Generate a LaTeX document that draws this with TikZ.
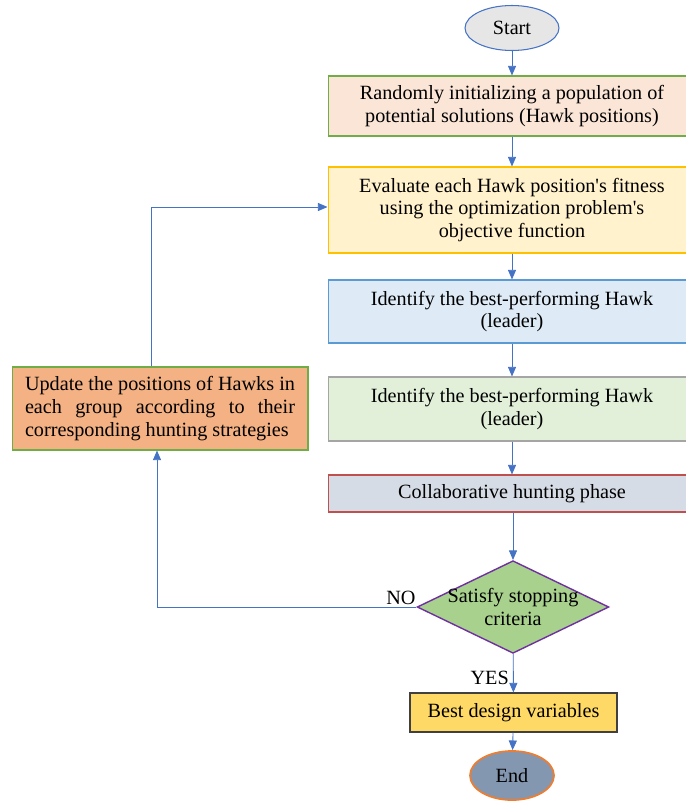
\documentclass[tikz,border=0pt]{standalone}
\usepackage{fontspec}
\setmainfont{Liberation Serif}
\usetikzlibrary{shapes,arrows,arrows.meta}
\usetikzlibrary{positioning}

\definecolor{arrowblue}{RGB}{68,114,196}
\definecolor{startfill}{RGB}{231,230,230}
\definecolor{initfill}{RGB}{251,229,214}
\definecolor{greenline}{RGB}{112,173,71}
\definecolor{evalfill}{RGB}{255,242,204}
\definecolor{evalline}{RGB}{255,192,0}
\definecolor{leadfill}{RGB}{222,235,247}
\definecolor{leadline}{RGB}{91,155,213}
\definecolor{lead2fill}{RGB}{226,240,217}
\definecolor{grayline}{RGB}{165,165,165}
\definecolor{huntfill}{RGB}{214,220,229}
\definecolor{huntline}{RGB}{192,80,77}
\definecolor{checkfill}{RGB}{169,209,142}
\definecolor{checkline}{RGB}{112,48,160}
\definecolor{bestfill}{RGB}{255,217,102}
\definecolor{endfill}{RGB}{132,151,176}
\definecolor{endline}{RGB}{237,125,49}
\definecolor{updfill}{RGB}{244,177,131}

\tikzset{
  txt/.style={font=\fontsize{11.5}{13}\selectfont},
  box/.style={txt, rectangle, draw, line width=0.6pt, minimum width=7.36cm, align=center},
  arr/.style={draw=arrowblue, line width=0.5pt, -{Triangle[length=5.5pt,width=4.6pt,fill=arrowblue]}},
}

\begin{document}
\begin{tikzpicture}[x=0.02cm, y=-0.02cm]
\useasboundingbox (0,0) rectangle (686,801);

% terminals
\node[txt, ellipse, draw=arrowblue, fill=startfill, line width=0.6pt, minimum width=1.88cm, minimum height=0.9cm](start) at (512, 28) {Start};
\node[txt, ellipse, draw=endline, fill=endfill, line width=1pt, minimum width=1.68cm, minimum height=0.98cm](end) at (512, 775.5) {End};

% main column
\node[box, draw=greenline, fill=initfill, minimum height=1.2cm](init) at (512, 106) {Randomly initializing a population of\\potential solutions (Hawk positions)};
\node[box, draw=evalline, fill=evalfill, minimum height=1.72cm](eval) at (512, 210) {Evaluate each Hawk position\textquotesingle s fitness\\using the optimization problem\textquotesingle s\\objective function};
\node[box, draw=leadline, fill=leadfill, minimum height=1.26cm](lead) at (512, 311.5) {Identify the best-performing Hawk\\(leader)};
\node[box, draw=grayline, fill=lead2fill, minimum height=1.28cm](leadb) at (512, 409) {Identify the best-performing Hawk\\(leader)};
\node[box, draw=huntline, fill=huntfill, minimum height=0.74cm](hunt) at (512, 493.5) {Collaborative hunting phase};

% decision
\node[txt, diamond, aspect=2.07, draw=checkline, fill=checkfill, line width=0.8pt, minimum width=3.82cm, minimum height=1.84cm, inner sep=-1.5pt, align=center](check) at (513, 607) {Satisfy stopping\\criteria};
\node[txt, rectangle, draw=black!75, fill=bestfill, line width=0.6pt, minimum width=4.14cm, minimum height=0.78cm](best) at (513.5, 712.5) {Best design variables};

% loop back
\node[txt, rectangle, draw=greenline, fill=updfill, line width=0.6pt, text width=5.4cm, inner xsep=0.26cm, minimum height=1.66cm, align=justify](upd) at (160, 408.5) {Update the positions of Hawks in\linebreak each group according to their\linebreak corresponding hunting strategies};

\coordinate (noturn) at (157, 607);
\coordinate (upturn) at (151, 207);

% arrows
\draw[arr] (start) -- (init);
\draw[arr] (init) -- (eval);
\draw[arr] (eval) -- (lead);
\draw[arr] (lead) -- (leadb);
\draw[arr] (leadb) -- (hunt);
\draw[arr] (hunt.south -| check.north) -- (check.north);
\draw[arr] (check) -- node[txt, left=-1pt, pos=0.62]{YES} (best);
\draw[arr] (best) -- (end);

\draw[arr] (check.west) -- node[txt, above, pos=0.06, inner sep=1pt]{NO} (noturn) -- (noturn |- upd.south);
\draw[arr] (upd.north -| upturn) -- (upturn) -- (upturn -| eval.west);

\end{tikzpicture}
\end{document}
